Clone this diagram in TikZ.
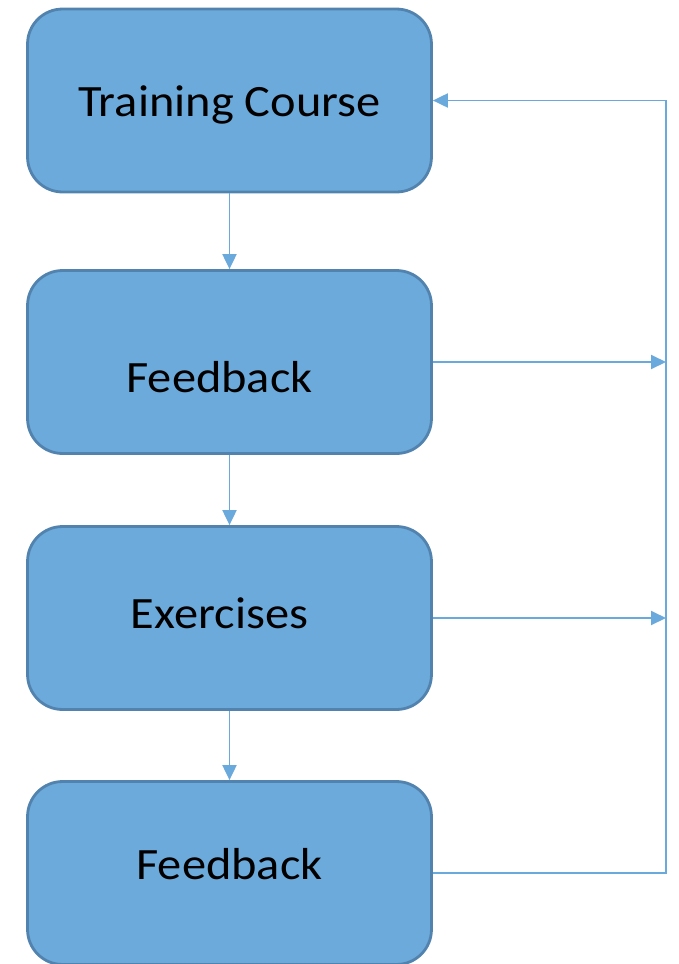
\documentclass[tikz,border=0pt]{standalone}
\usepackage{fontspec}
\setmainfont{Carlito}[FakeStretch=1.08]
\usetikzlibrary{arrows.meta,positioning}
\definecolor{boxfill}{HTML}{6CAADB}
\definecolor{boxline}{HTML}{5283AE}
\definecolor{linkblue}{HTML}{6AA9DC}
\tikzset{lowered/.style={text height=#1,text depth=0pt}}

\begin{document}
\begin{tikzpicture}[x=0.02cm, y=-0.02cm, >={Triangle[length=0.3cm,width=0.28cm]}]
   \useasboundingbox (0,0) rectangle (679,964);
   \begin{scope}[every node/.style={rectangle,rounded corners=0.7cm,draw=boxline,line width=1.6pt,fill=boxfill,minimum width=8.08cm,minimum height=3.66cm,font=\fontsize{25.5}{30}\selectfont}]
    \node (b1) [lowered=0.64cm] at (229.5,100.5) {Training Course};
    \node (b2) [lowered=1.22cm] at (229.5,362) {Feedback\hspace*{0.4cm}};
    \node (b3) [lowered=0.4cm] at (229.5,618) {Exercises\hspace*{0.4cm}};
    \node (b4) [lowered=0.24cm] at (229.5,873) {Feedback};
   \end{scope}
   \coordinate (r1) at (666,100.5);
   \coordinate (r2) at (666,362);
   \coordinate (r3) at (666,618);
   \coordinate (r4) at (666,873);
   \begin{scope}[->,every edge/.style={draw=linkblue,line width=1.1pt}]
    \draw  (b1) edge (b2);
    \draw  (b2) edge (b3);
    \draw  (b3) edge (b4);
    \draw  (b2) edge (r2);
    \draw  (b3) edge (r3);
   \end{scope}
   \draw[->,draw=linkblue,line width=1.1pt] (b4.east) -- (r4) -- (r1) -- (b1.east);
\end{tikzpicture}
\end{document}
